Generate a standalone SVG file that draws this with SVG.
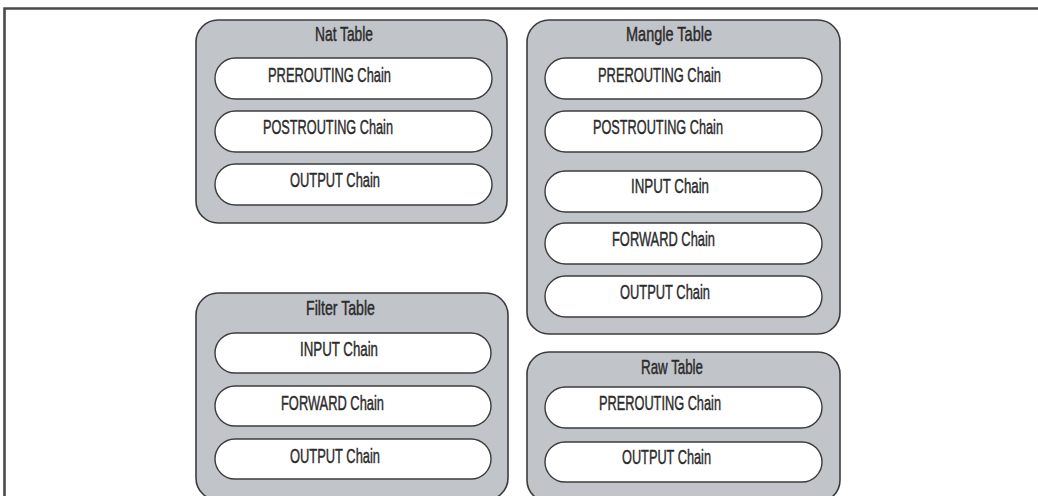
<svg xmlns="http://www.w3.org/2000/svg" width="1038" height="496" viewBox="0 0 1038 496">
<style>
.tbl{fill:#c1c4c9;stroke:#3c3c3c;stroke-width:1.6}
.chn{fill:#ffffff;stroke:#3c3c3c;stroke-width:1.4}
text{font-family:"Liberation Sans",Arial,sans-serif;font-size:20.5px;fill:#2b2b2b;stroke:#2b2b2b;stroke-width:0.45}
.frame{stroke:#4a4a4a;stroke-width:2.6;fill:none}
</style>
<rect x="0" y="0" width="1038" height="496" fill="#ffffff"/>
<g id="frame">
<path class="frame" d="M4.5,496 V8.5 H1038"/>
</g>
<g id="connectors"></g>
<g id="nat-table">
<rect class="tbl" x="196" y="20" width="311" height="203" rx="22"/>
<text x="315" y="41" textLength="58" lengthAdjust="spacingAndGlyphs">Nat Table</text>
<g id="nat-prerouting"><rect class="chn" x="215" y="58" width="277" height="41" rx="20.5"/>
<text x="268" y="82" textLength="123" lengthAdjust="spacingAndGlyphs">PREROUTING Chain</text></g>
<g id="nat-postrouting"><rect class="chn" x="215" y="111" width="277" height="41" rx="20.5"/>
<text x="263" y="134" textLength="130" lengthAdjust="spacingAndGlyphs">POSTROUTING Chain</text></g>
<g id="nat-output"><rect class="chn" x="215" y="164" width="277" height="41" rx="20.5"/>
<text x="290" y="187" textLength="90" lengthAdjust="spacingAndGlyphs">OUTPUT Chain</text></g>
</g>
<g id="mangle-table">
<rect class="tbl" x="527" y="20" width="313" height="314" rx="22"/>
<text x="626" y="41" textLength="86" lengthAdjust="spacingAndGlyphs">Mangle Table</text>
<g id="mangle-prerouting"><rect class="chn" x="545" y="58" width="277" height="41" rx="20.5"/>
<text x="598" y="82" textLength="123" lengthAdjust="spacingAndGlyphs">PREROUTING Chain</text></g>
<g id="mangle-postrouting"><rect class="chn" x="545" y="111" width="277" height="41" rx="20.5"/>
<text x="593" y="134" textLength="130" lengthAdjust="spacingAndGlyphs">POSTROUTING Chain</text></g>
<g id="mangle-input"><rect class="chn" x="545" y="171" width="277" height="41" rx="20.5"/>
<text x="631" y="193" textLength="78" lengthAdjust="spacingAndGlyphs">INPUT Chain</text></g>
<g id="mangle-forward"><rect class="chn" x="545" y="223" width="277" height="41" rx="20.5"/>
<text x="612" y="246" textLength="103" lengthAdjust="spacingAndGlyphs">FORWARD Chain</text></g>
<g id="mangle-output"><rect class="chn" x="545" y="276" width="277" height="41" rx="20.5"/>
<text x="620" y="299" textLength="90" lengthAdjust="spacingAndGlyphs">OUTPUT Chain</text></g>
</g>
<g id="filter-table">
<rect class="tbl" x="196" y="293" width="312" height="207" rx="22"/>
<text x="306" y="315" textLength="69" lengthAdjust="spacingAndGlyphs">Filter Table</text>
<g id="filter-input"><rect class="chn" x="215" y="333" width="276" height="40" rx="20"/>
<text x="300" y="356" textLength="78" lengthAdjust="spacingAndGlyphs">INPUT Chain</text></g>
<g id="filter-forward"><rect class="chn" x="215" y="386" width="276" height="40" rx="20"/>
<text x="281" y="409.5" textLength="103" lengthAdjust="spacingAndGlyphs">FORWARD Chain</text></g>
<g id="filter-output"><rect class="chn" x="215" y="439" width="276" height="40" rx="20"/>
<text x="290" y="462.5" textLength="90" lengthAdjust="spacingAndGlyphs">OUTPUT Chain</text></g>
</g>
<g id="raw-table">
<rect class="tbl" x="527" y="352" width="313" height="150" rx="22"/>
<text x="641" y="374" textLength="62" lengthAdjust="spacingAndGlyphs">Raw Table</text>
<g id="raw-prerouting"><rect class="chn" x="545" y="387" width="277" height="41" rx="20.5"/>
<text x="599" y="410" textLength="122" lengthAdjust="spacingAndGlyphs">PREROUTING Chain</text></g>
<g id="raw-output"><rect class="chn" x="545" y="442" width="277" height="40" rx="20"/>
<text x="622" y="464" textLength="89" lengthAdjust="spacingAndGlyphs">OUTPUT Chain</text></g>
</g>
</svg>
